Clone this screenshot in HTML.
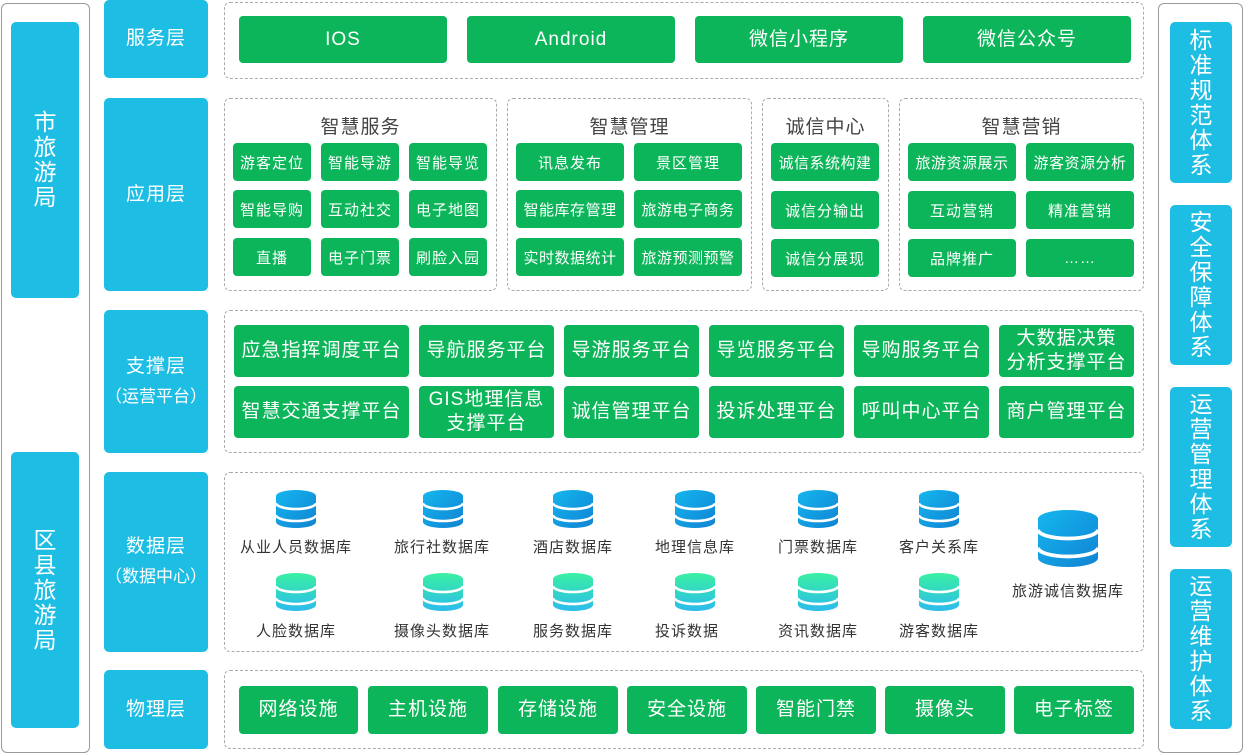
<!DOCTYPE html>
<html><head><meta charset="utf-8"><style>
*{margin:0;padding:0;box-sizing:border-box}
body{width:1244px;height:749px;background:#fff;position:relative;overflow:hidden;font-family:"Liberation Sans","Noto Sans CJK SC",sans-serif}
div{position:absolute}
.frame{border:1px solid #9a9a9a;border-radius:6px}
.blue{background:#1ebde4;border-radius:5px;color:#fff;display:flex;align-items:center;justify-content:center;text-align:center}
.vt{font-size:23px;line-height:25px;width:24px;word-break:break-all}
.lay{font-size:19px;line-height:30px;letter-spacing:1px}
.nw{white-space:nowrap;font-size:17px;letter-spacing:0}
.dash{border:1px dashed #aaa;border-radius:6px}
.g{background:#0db55a;border-radius:4px;color:#fff;display:flex;align-items:center;justify-content:center;text-align:center;letter-spacing:1px}
.s{font-size:15px}
.m{font-size:19px;line-height:24px}
.t{font-size:19px;color:#444;text-align:center;letter-spacing:1px}
.lbl{font-size:15px;color:#333;text-align:center;width:140px;letter-spacing:1px}
svg{position:absolute}
</style></head><body>
<svg width="0" height="0" style="position:absolute"><defs>
<linearGradient id="bg" x1="0" y1="0" x2="1" y2="1"><stop offset="0" stop-color="#14b6ef"/><stop offset="1" stop-color="#1183d2"/></linearGradient>
<linearGradient id="gg" x1="0" y1="0" x2="0" y2="1"><stop offset="0" stop-color="#3af0a2"/><stop offset="1" stop-color="#2bbcec"/></linearGradient>
</defs></svg>

<div class="frame" style="left:1px;top:3px;width:89px;height:750px"></div>
<div class="blue" style="left:11px;top:22px;width:68px;height:276px"><div class="vt" style="position:static">市旅游局</div></div>
<div class="blue" style="left:11px;top:452px;width:68px;height:276px"><div class="vt" style="position:static">区县旅游局</div></div>

<div class="frame" style="left:1158px;top:3px;width:85px;height:750px"></div>
<div class="blue" style="left:1170px;top:22px;width:62px;height:161px"><div class="vt" style="position:static">标准规范体系</div></div>
<div class="blue" style="left:1170px;top:205px;width:62px;height:160px"><div class="vt" style="position:static">安全保障体系</div></div>
<div class="blue" style="left:1170px;top:387px;width:62px;height:160px"><div class="vt" style="position:static">运营管理体系</div></div>
<div class="blue" style="left:1170px;top:569px;width:62px;height:160px"><div class="vt" style="position:static">运营维护体系</div></div>

<div class="blue lay" style="left:104px;top:0;width:104px;height:78px">服务层</div>
<div class="blue lay" style="left:104px;top:98px;width:104px;height:193px">应用层</div>
<div class="blue lay" style="left:104px;top:310px;width:104px;height:143px"><span style="position:static">支撑层<br><span class="nw">（运营平台）</span></span></div>
<div class="blue lay" style="left:104px;top:472px;width:104px;height:180px"><span style="position:static">数据层<br><span class="nw">（数据中心）</span></span></div>
<div class="blue lay" style="left:104px;top:670px;width:104px;height:79px">物理层</div>

<div class="dash" style="left:224px;top:2px;width:920px;height:77px"></div>
<div class="g m" style="left:239px;top:16px;width:208px;height:47px">IOS</div>
<div class="g m" style="left:467px;top:16px;width:208px;height:47px">Android</div>
<div class="g m" style="left:695px;top:16px;width:208px;height:47px">微信小程序</div>
<div class="g m" style="left:923px;top:16px;width:208px;height:47px">微信公众号</div>

<div class="dash" style="left:224px;top:98px;width:273px;height:193px"></div>
<div class="t" style="left:224px;top:112px;width:273px">智慧服务</div>
<div class="g s" style="left:233px;top:143px;width:78px;height:38px">游客定位</div>
<div class="g s" style="left:321px;top:143px;width:78px;height:38px">智能导游</div>
<div class="g s" style="left:409px;top:143px;width:78px;height:38px">智能导览</div>
<div class="g s" style="left:233px;top:190px;width:78px;height:38px">智能导购</div>
<div class="g s" style="left:321px;top:190px;width:78px;height:38px">互动社交</div>
<div class="g s" style="left:409px;top:190px;width:78px;height:38px">电子地图</div>
<div class="g s" style="left:233px;top:238px;width:78px;height:38px">直播</div>
<div class="g s" style="left:321px;top:238px;width:78px;height:38px">电子门票</div>
<div class="g s" style="left:409px;top:238px;width:78px;height:38px">刷脸入园</div>

<div class="dash" style="left:507px;top:98px;width:245px;height:193px"></div>
<div class="t" style="left:507px;top:112px;width:245px">智慧管理</div>
<div class="g s" style="left:516px;top:143px;width:108px;height:38px">讯息发布</div>
<div class="g s" style="left:634px;top:143px;width:108px;height:38px">景区管理</div>
<div class="g s" style="left:516px;top:190px;width:108px;height:38px;letter-spacing:0.5px">智能库存管理</div>
<div class="g s" style="left:634px;top:190px;width:108px;height:38px;letter-spacing:0.5px">旅游电子商务</div>
<div class="g s" style="left:516px;top:238px;width:108px;height:38px;letter-spacing:0.5px">实时数据统计</div>
<div class="g s" style="left:634px;top:238px;width:108px;height:38px;letter-spacing:0.5px">旅游预测预警</div>

<div class="dash" style="left:762px;top:98px;width:127px;height:193px"></div>
<div class="t" style="left:762px;top:112px;width:127px">诚信中心</div>
<div class="g s" style="left:771px;top:143px;width:108px;height:38px;letter-spacing:0.5px">诚信系统构建</div>
<div class="g s" style="left:771px;top:191px;width:108px;height:38px">诚信分输出</div>
<div class="g s" style="left:771px;top:239px;width:108px;height:38px">诚信分展现</div>

<div class="dash" style="left:899px;top:98px;width:245px;height:193px"></div>
<div class="t" style="left:899px;top:112px;width:245px">智慧营销</div>
<div class="g s" style="left:908px;top:143px;width:108px;height:38px;letter-spacing:0.5px">旅游资源展示</div>
<div class="g s" style="left:1026px;top:143px;width:108px;height:38px;letter-spacing:0.5px">游客资源分析</div>
<div class="g s" style="left:908px;top:191px;width:108px;height:38px">互动营销</div>
<div class="g s" style="left:1026px;top:191px;width:108px;height:38px">精准营销</div>
<div class="g s" style="left:908px;top:239px;width:108px;height:38px">品牌推广</div>
<div class="g s" style="left:1026px;top:239px;width:108px;height:38px">……</div>

<div class="dash" style="left:224px;top:310px;width:920px;height:143px"></div>
<div class="g m" style="left:234px;top:325px;width:175px;height:52px">应急指挥调度平台</div>
<div class="g m" style="left:419px;top:325px;width:135px;height:52px">导航服务平台</div>
<div class="g m" style="left:564px;top:325px;width:135px;height:52px">导游服务平台</div>
<div class="g m" style="left:709px;top:325px;width:135px;height:52px">导览服务平台</div>
<div class="g m" style="left:854px;top:325px;width:135px;height:52px">导购服务平台</div>
<div class="g m" style="left:999px;top:325px;width:135px;height:52px">大数据决策<br>分析支撑平台</div>
<div class="g m" style="left:234px;top:386px;width:175px;height:52px">智慧交通支撑平台</div>
<div class="g m" style="left:419px;top:386px;width:135px;height:52px">GIS地理信息<br>支撑平台</div>
<div class="g m" style="left:564px;top:386px;width:135px;height:52px">诚信管理平台</div>
<div class="g m" style="left:709px;top:386px;width:135px;height:52px">投诉处理平台</div>
<div class="g m" style="left:854px;top:386px;width:135px;height:52px">呼叫中心平台</div>
<div class="g m" style="left:999px;top:386px;width:135px;height:52px">商户管理平台</div>

<div class="dash" style="left:224px;top:472px;width:920px;height:180px"></div>
<svg width="1244" height="749" style="left:0;top:0" viewBox="0 0 1244 749">
<defs>
<g id="db"><path d="M0 6 a20 6 0 0 1 40 0 v26 a20 6 0 0 1 -40 0z"/><path d="M0 13 a20 6 0 0 0 40 0 M0 25 a20 6 0 0 0 40 0" stroke="#fff" stroke-width="2.5" fill="none"/></g>
</defs>
<g fill="url(#bg)">
<use href="#db" x="276" y="490"/><use href="#db" x="423" y="490"/><use href="#db" x="553" y="490"/><use href="#db" x="675" y="490"/><use href="#db" x="798" y="490"/><use href="#db" x="919" y="490"/>
</g>
<g fill="url(#gg)">
<use href="#db" x="276" y="573"/><use href="#db" x="423" y="573"/><use href="#db" x="553" y="573"/><use href="#db" x="675" y="573"/><use href="#db" x="798" y="573"/><use href="#db" x="919" y="573"/>
</g>
<g fill="url(#bg)"><use href="#db" transform="translate(1038 510) scale(1.5)"/></g>
</svg>
<div class="lbl" style="left:226px;top:536px">从业人员数据库</div>
<div class="lbl" style="left:372px;top:536px">旅行社数据库</div>
<div class="lbl" style="left:503px;top:536px">酒店数据库</div>
<div class="lbl" style="left:625px;top:536px">地理信息库</div>
<div class="lbl" style="left:748px;top:536px">门票数据库</div>
<div class="lbl" style="left:869px;top:536px">客户关系库</div>
<div class="lbl" style="left:226px;top:620px">人脸数据库</div>
<div class="lbl" style="left:372px;top:620px">摄像头数据库</div>
<div class="lbl" style="left:503px;top:620px">服务数据库</div>
<div class="lbl" style="left:617px;top:620px">投诉数据</div>
<div class="lbl" style="left:748px;top:620px">资讯数据库</div>
<div class="lbl" style="left:869px;top:620px">游客数据库</div>
<div class="lbl" style="left:998px;top:580px">旅游诚信数据库</div>

<div class="dash" style="left:224px;top:670px;width:920px;height:79px"></div>
<div class="g m" style="left:239px;top:686px;width:119px;height:48px">网络设施</div>
<div class="g m" style="left:368px;top:686px;width:120px;height:48px">主机设施</div>
<div class="g m" style="left:498px;top:686px;width:120px;height:48px">存储设施</div>
<div class="g m" style="left:627px;top:686px;width:120px;height:48px">安全设施</div>
<div class="g m" style="left:756px;top:686px;width:120px;height:48px">智能门禁</div>
<div class="g m" style="left:885px;top:686px;width:120px;height:48px">摄像头</div>
<div class="g m" style="left:1014px;top:686px;width:120px;height:48px">电子标签</div>
</body></html>
